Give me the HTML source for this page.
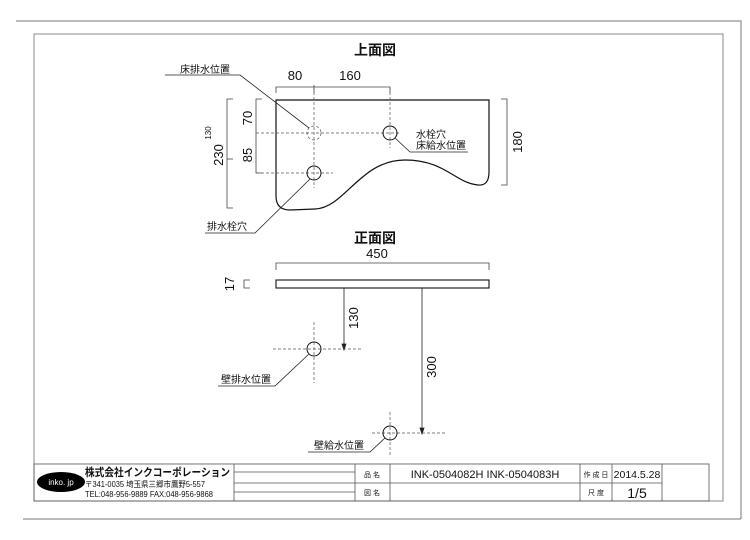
<!DOCTYPE html>
<html><head><meta charset="utf-8"><style>
html,body{margin:0;padding:0;background:#fff;}
svg{display:block;}
text{font-family:"Liberation Sans","Noto Sans CJK JP",sans-serif;fill:#111;}
</style></head><body>
<svg width="750" height="540" viewBox="0 0 750 540" xmlns="http://www.w3.org/2000/svg">
<g fill="none" stroke="#777" stroke-width="1">
<polyline points="16,21 741,21 741,519"/>
<line x1="23" y1="519" x2="741" y2="519"/>
<rect x="34" y="34" width="689" height="467" stroke="#888"/>
</g>
<!-- title block -->
<g fill="none" stroke="#555" stroke-width="0.8">
<rect x="34" y="464" width="675" height="37"/>
<line x1="234" y1="464" x2="234" y2="501"/>
<line x1="355" y1="464" x2="355" y2="501"/>
<line x1="390" y1="464" x2="390" y2="501"/>
<line x1="580" y1="464" x2="580" y2="501"/>
<line x1="612" y1="464" x2="612" y2="501"/>
<line x1="662" y1="464" x2="662" y2="501"/>
<line x1="355" y1="483" x2="662" y2="483"/>
<line x1="234" y1="472" x2="355" y2="472"/>
<line x1="234" y1="483" x2="355" y2="483"/>
<line x1="234" y1="492" x2="355" y2="492"/>
</g>
<ellipse cx="61" cy="482" rx="24" ry="10" fill="#000"/>
<text x="61" y="485" font-size="8" text-anchor="middle" style="fill:#fff">inko. jp</text>
<text x="85" y="476" font-size="11" font-weight="bold" textLength="145" lengthAdjust="spacingAndGlyphs">株式会社インクコーポレーション</text>
<text x="85" y="487" font-size="8" textLength="120" lengthAdjust="spacingAndGlyphs">〒341-0035 埼玉県三郷市鷹野5-557</text>
<text x="85" y="497" font-size="8" textLength="128" lengthAdjust="spacingAndGlyphs">TEL:048-956-9889  FAX:048-956-9868</text>
<text x="372" y="477" font-size="7" text-anchor="middle">品 名</text>
<text x="372" y="495" font-size="7" text-anchor="middle">図 名</text>
<text x="485" y="478" font-size="11" text-anchor="middle">INK-0504082H  INK-0504083H</text>
<text x="596" y="477" font-size="7" text-anchor="middle">作 成 日</text>
<text x="596" y="495" font-size="7" text-anchor="middle">尺 度</text>
<text x="637" y="478" font-size="10.5" text-anchor="middle">2014.5.28</text>
<text x="637" y="498" font-size="14" text-anchor="middle">1/5</text>

<!-- top view -->
<text x="375" y="55" font-size="14" font-weight="bold" text-anchor="middle">上面図</text>
<path d="M276,100 L489,100 L489,172 Q489,186 478,185 C455,183 445,160 405,160 C360,160 345,208 315,209 L290,210 Q276,210 276,196 Z" fill="none" stroke="#111" stroke-width="1.2"/>
<g fill="none" stroke="#444" stroke-width="0.8">
<polyline points="276,93 276,87 390,87 390,93"/>
<line x1="314" y1="85" x2="314" y2="93"/>
<polyline points="233,99 227,99 227,208 233,208"/>
<line x1="227" y1="159" x2="233" y2="159"/>
<polyline points="262,99 256,99 256,173 262,173"/>
<polyline points="501,99 507,99 507,185 501,185"/>
</g>
<g fill="none" stroke="#555" stroke-width="0.7" stroke-dasharray="3,2">
<line x1="314" y1="87" x2="314" y2="188"/>
<line x1="390" y1="87" x2="390" y2="148"/>
<line x1="256" y1="133" x2="400" y2="133"/>
<line x1="256" y1="173" x2="333" y2="173"/>
<circle cx="314" cy="133" r="7"/>
</g>
<circle cx="390" cy="133" r="7" fill="none" stroke="#111"/>
<circle cx="314" cy="173" r="7" fill="none" stroke="#111"/>
<text x="295" y="80" font-size="13" text-anchor="middle">80</text>
<text x="350" y="80" font-size="13" text-anchor="middle">160</text>
<text transform="translate(223,155) rotate(-90)" font-size="13" text-anchor="middle">230</text>
<text transform="translate(211,133) rotate(-90)" font-size="8" text-anchor="middle">130</text>
<text transform="translate(252,118) rotate(-90)" font-size="13" text-anchor="middle">70</text>
<text transform="translate(252,155) rotate(-90)" font-size="13" text-anchor="middle">85</text>
<text transform="translate(522,142) rotate(-90)" font-size="13" text-anchor="middle">180</text>
<g fill="none" stroke="#222" stroke-width="0.8">
<polyline points="165,75 240,75 309,128"/>
<polyline points="395,138 410,152 468,152"/>
<polyline points="205,233 255,233 310,179"/>
</g>
<text x="180" y="73" font-size="10">床排水位置</text>
<text x="416" y="138" font-size="10">水栓穴</text>
<text x="416" y="149" font-size="10">床給水位置</text>
<text x="207" y="230" font-size="10">排水栓穴</text>

<!-- front view -->
<text x="375" y="243" font-size="14" font-weight="bold" text-anchor="middle">正面図</text>
<text x="377" y="258" font-size="13" text-anchor="middle">450</text>
<polyline points="276,270 276,263 489,263 489,270" fill="none" stroke="#444" stroke-width="0.8"/>
<rect x="276" y="280" width="213" height="8" fill="none" stroke="#111" stroke-width="1.1"/>
<text transform="translate(234,284) rotate(-90)" font-size="13" text-anchor="middle">17</text>
<polyline points="250,280 244,280 244,288 250,288" fill="none" stroke="#444" stroke-width="0.8"/>
<g stroke="#222" stroke-width="0.8" fill="#222">
<line x1="344" y1="288" x2="344" y2="348"/>
<polygon points="342,344 346,344 344,350"/>
<line x1="422" y1="288" x2="422" y2="432"/>
<polygon points="420,428 424,428 422,434"/>
</g>
<text transform="translate(358,318) rotate(-90)" font-size="13" text-anchor="middle">130</text>
<text transform="translate(436,367) rotate(-90)" font-size="13" text-anchor="middle">300</text>
<g fill="none" stroke="#555" stroke-width="0.7" stroke-dasharray="3,2">
<line x1="273" y1="349" x2="362" y2="349"/>
<line x1="314" y1="322" x2="314" y2="383"/>
<line x1="372" y1="433" x2="446" y2="433"/>
<line x1="390" y1="412" x2="390" y2="457"/>
</g>
<circle cx="314" cy="349" r="7" fill="none" stroke="#111"/>
<circle cx="390" cy="433" r="7" fill="none" stroke="#111"/>
<g fill="none" stroke="#222" stroke-width="0.8">
<polyline points="218,386 275,386 309,354"/>
<polyline points="308,452 370,452 385,438"/>
</g>
<text x="221" y="383" font-size="10">壁排水位置</text>
<text x="314" y="449" font-size="10">壁給水位置</text>
</svg>
</body></html>
